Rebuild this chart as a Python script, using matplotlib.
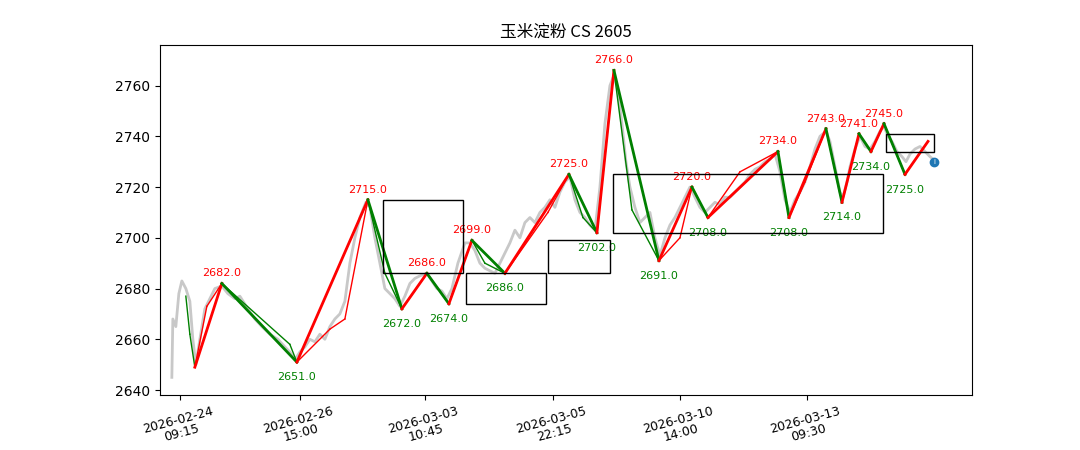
import matplotlib
matplotlib.use("Agg")
import matplotlib.pyplot as plt
from matplotlib.patches import Rectangle

plt.rcParams['font.family'] = ['DejaVu Sans', 'Noto Sans CJK SC']

title = "玉米淀粉 CS 2605"
tick_pos = [10, 130, 255, 383, 510, 637]
tick_labels = ["2026-02-24\n09:15", "2026-02-26\n15:00", "2026-03-03\n10:45",
               "2026-03-05\n22:15", "2026-03-10\n14:00", "2026-03-13\n09:30"]

price_x = [2,3,6,9,12,16,20,23,26,30,35,40,45,52,58,65,70,78,85,92,100,108,115,120,125,130,135,140,145,150,155,160,165,170,175,180,185,190,196,200,205,210,215,220,225,230,235,240,245,250,257,262,267,272,277,282,288,295,300,305,310,315,320,325,330,335,340,345,350,355,360,365,370,375,380,385,390,395,400,405,410,415,420,425,430,435,440,444,448,452,456,460,465,470,475,480,485,490,495,500,505,510,515,520,525,530,535,540,545,550,555,560,565,570,575,580,585,590,595,600,605,610,615,620,625,630,635,640,645,650,656,660,665,670,673,677,680,685,690,695,700,705,710,714,718,722,727,732,736,740,745,750,755,760,763]
price_y = [2645,2668,2665,2678,2683,2680,2675,2660,2650,2660,2672,2676,2680,2681,2678,2676,2677,2672,2668,2665,2662,2660,2657,2655,2652,2655,2657,2660,2659,2662,2660,2665,2668,2670,2675,2690,2700,2708,2714,2712,2700,2690,2680,2678,2676,2673,2677,2682,2684,2685,2686,2683,2680,2679,2676,2680,2690,2698,2698,2695,2690,2688,2687,2686,2690,2694,2698,2703,2700,2706,2708,2706,2710,2712,2715,2712,2718,2722,2724,2715,2710,2708,2705,2703,2720,2745,2760,2764,2758,2745,2730,2720,2712,2706,2708,2710,2700,2693,2700,2705,2708,2712,2716,2720,2716,2712,2710,2712,2714,2713,2716,2716,2718,2720,2722,2725,2727,2728,2730,2731,2733,2726,2715,2710,2715,2718,2722,2728,2735,2740,2742,2738,2728,2718,2716,2722,2728,2735,2740,2736,2735,2738,2742,2744,2740,2738,2734,2732,2730,2733,2735,2736,2734,2732,2731]

zz_x = [25,52,127,198,232,257,279,302,335,399,427,444,489,522,538,608,619,656,672,689,701,714,735,758]
zz_y = [2649,2682,2651,2715,2672,2686,2674,2699,2686,2725,2702,2766,2691,2720,2708,2734,2708,2743,2714,2741,2734,2745,2725,2738]
zz_labels = [None,"2682.0","2651.0","2715.0","2672.0","2686.0","2674.0","2699.0","2686.0","2725.0","2702.0","2766.0","2691.0","2720.0","2708.0","2734.0","2708.0","2743.0","2714.0","2741.0","2734.0","2745.0","2725.0",None]

thin_x = [16,20,25,37,52,120,127,160,175,198,215,232,257,279,302,315,335,378,399,413,427,444,462,489,510,522,538,570,608,619,635,656,672,689,701,714,735,758]
thin_y = [2677,2662,2649,2673,2682,2658,2651,2664,2668,2715,2686,2672,2686,2674,2699,2690,2686,2710,2725,2708,2702,2766,2711,2691,2700,2720,2708,2726,2734,2708,2722,2743,2714,2741,2734,2745,2725,2738]

boxes = [(213,293,2686,2715),(296,376,2674,2686),(378,440,2686,2699),(443,713,2702,2725),(716,764,2734,2741)]

fig = plt.figure(figsize=(10.8,4.5), dpi=100)
ax = fig.add_axes([0.148,0.122,0.752,0.778])
ax.plot(price_x, price_y, color='#c8c8c8', lw=2, zorder=1)

def draw_zig(xs, ys, lw):
    for i in range(len(xs)-1):
        c = 'red' if ys[i+1] > ys[i] else 'green'
        ax.plot(xs[i:i+2], ys[i:i+2], color=c, lw=lw, zorder=3)
draw_zig(thin_x, thin_y, 1.0)
draw_zig(zz_x, zz_y, 2.0)

for i,(x,y,l) in enumerate(zip(zz_x, zz_y, zz_labels)):
    if l is None: continue
    hi = (i==0 or y > zz_y[i-1])
    if hi:
        ax.text(x, y+2, l, color='red', fontsize=8, ha='center', va='bottom')
    else:
        ax.text(x, y-4, l, color='green', fontsize=8, ha='center', va='top')

for x0,x1,y0,y1 in boxes:
    ax.add_patch(Rectangle((x0,y0), x1-x0, y1-y0, fill=False, ec='black', lw=1, zorder=4))

ax.plot([764],[2730], 'o', color='#1f77b4', ms=6, zorder=5)
ax.text(764, 2730, 'i', color='white', fontsize=5, ha='center', va='center', zorder=6)

ax.set_xlim(-10, 802)
ax.set_ylim(2638, 2776)
ax.set_yticks([2640,2660,2680,2700,2720,2740,2760])
ax.set_xticks(tick_pos)
ax.set_xticklabels(tick_labels, rotation=15, fontsize=9, linespacing=1.0)
ax.set_title(title, fontsize=12, family=['Noto Sans CJK SC', 'DejaVu Sans'])
fig.savefig("out.png", dpi=100)
